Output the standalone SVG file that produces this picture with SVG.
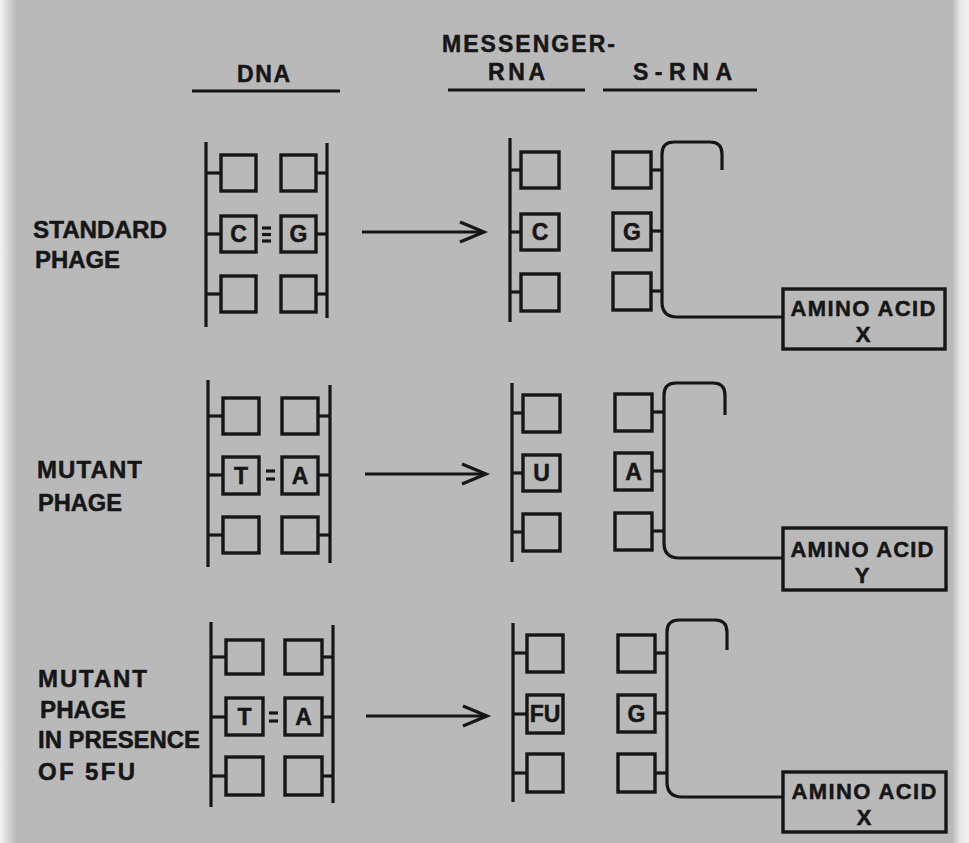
<svg xmlns="http://www.w3.org/2000/svg" width="969" height="843" viewBox="0 0 969 843">
<defs>
<style>
.ink{stroke:#161616;stroke-width:3.2;fill:none;stroke-linecap:butt}
.bx{stroke:#161616;stroke-width:3.4;fill:none}
.t{font-family:"Liberation Sans",Arial,sans-serif;font-weight:bold;fill:#161616;stroke:#161616;stroke-width:0.5}
.lbl{font-size:24px}
.hdr{font-size:23px}
.base{font-size:23px;text-anchor:middle}
.aa{font-size:22px;text-anchor:middle}
</style>
<linearGradient id="lg" x1="0" x2="1" y1="0" y2="0">
<stop offset="0" stop-color="#f2f2f2"/><stop offset="1" stop-color="#b9b9b9"/>
</linearGradient>
<linearGradient id="rg" x1="0" x2="1" y1="0" y2="0">
<stop offset="0" stop-color="#b9b9b9"/><stop offset="0.5" stop-color="#e8e8e8"/><stop offset="1" stop-color="#f0f0f0"/>
</linearGradient>
</defs>
<rect x="0" y="0" width="969" height="843" fill="#b9b9b9"/>
<rect x="0" y="0" width="16" height="843" fill="url(#lg)"/>
<rect x="952" y="0" width="17" height="843" fill="url(#rg)"/>

<g id="headers">
<text class="t hdr" x="237" y="82" textLength="53" lengthAdjust="spacing">DNA</text>
<line class="ink" x1="192" y1="91" x2="340" y2="91"/>
<text class="t hdr" x="442" y="52" textLength="173" lengthAdjust="spacing">MESSENGER-</text>
<text class="t hdr" x="488" y="80" textLength="57" lengthAdjust="spacing">RNA</text>
<line class="ink" x1="448" y1="90" x2="585" y2="90"/>
<text class="t hdr" x="633" y="80" textLength="99" lengthAdjust="spacing">S-RNA</text>
<line class="ink" x1="603" y1="90" x2="757" y2="90"/>
</g>

<!-- Row 1 -->
<g id="label-standard">
<text class="t lbl" x="33" y="238" textLength="134" lengthAdjust="spacingAndGlyphs">STANDARD</text>
<text class="t lbl" x="35" y="268" textLength="85" lengthAdjust="spacingAndGlyphs">PHAGE</text>
</g>
<g id="dna-standard">
<line class="ink" x1="206" y1="142" x2="206" y2="327"/>
<rect class="bx" x="221" y="155" width="35" height="36"/>
<rect class="bx" x="221" y="216" width="35" height="36"/>
<rect class="bx" x="221" y="276" width="35" height="36"/>
<line class="ink" x1="206" y1="173" x2="221" y2="173"/>
<line class="ink" x1="206" y1="234" x2="221" y2="234"/>
<line class="ink" x1="206" y1="294" x2="221" y2="294"/>
<rect class="bx" x="281" y="155" width="35" height="36"/>
<rect class="bx" x="281" y="216" width="35" height="36"/>
<rect class="bx" x="281" y="276" width="35" height="36"/>
<line class="ink" x1="316" y1="173" x2="327" y2="173"/>
<line class="ink" x1="316" y1="234" x2="327" y2="234"/>
<line class="ink" x1="316" y1="294" x2="327" y2="294"/>
<line class="ink" x1="327" y1="143" x2="327" y2="318"/>
<text class="t base" x="238.5" y="242.2">C</text>
<text class="t base" x="298.5" y="242.2">G</text>
<line class="ink" x1="262" y1="228" x2="271" y2="228" stroke-width="2.6"/>
<line class="ink" x1="262" y1="234.5" x2="271" y2="234.5" stroke-width="2.6"/>
<line class="ink" x1="262" y1="241" x2="271" y2="241" stroke-width="2.6"/>
</g>
<g id="mrna-standard">
<line class="ink" x1="510" y1="138" x2="510" y2="322"/>
<rect class="bx" x="521" y="152" width="38" height="36"/>
<rect class="bx" x="521" y="214" width="38" height="36"/>
<rect class="bx" x="521" y="274" width="38" height="37"/>
<line class="ink" x1="510" y1="170" x2="521" y2="170"/>
<line class="ink" x1="510" y1="232" x2="521" y2="232"/>
<line class="ink" x1="510" y1="292" x2="521" y2="292"/>
<text class="t base" x="540" y="240.2">C</text>
</g>
<g id="srna-standard">
<rect class="bx" x="613" y="152" width="38" height="36"/>
<rect class="bx" x="613" y="213" width="38" height="37"/>
<rect class="bx" x="613" y="273" width="38" height="37"/>
<line class="ink" x1="651" y1="170" x2="662" y2="170"/>
<line class="ink" x1="651" y1="231" x2="662" y2="231"/>
<line class="ink" x1="651" y1="291" x2="662" y2="291"/>
<path class="ink" d="M722 170 V154 Q722 142 710 142 H674 Q662 142 662 154 V302 Q662 317 677 317 H783"/>
<text class="t base" x="632" y="239.7">G</text>
</g>
<g id="amino-x-1">
<rect class="bx" x="783" y="289" width="162" height="60"/>
<text class="t aa" x="863" y="316" textLength="145" lengthAdjust="spacing">AMINO ACID</text>
<text class="t aa" x="863" y="342">X</text>
</g>

<!-- Row 2 -->
<g id="label-mutant">
<text class="t lbl" x="37" y="478" textLength="105" lengthAdjust="spacing">MUTANT</text>
<text class="t lbl" x="38" y="511" textLength="84" lengthAdjust="spacingAndGlyphs">PHAGE</text>
</g>
<g id="dna-mutant">
<line class="ink" x1="208" y1="380" x2="208" y2="567"/>
<rect class="bx" x="223" y="398" width="36" height="36"/>
<rect class="bx" x="223" y="457" width="36" height="37"/>
<rect class="bx" x="223" y="517" width="36" height="36"/>
<line class="ink" x1="208" y1="416" x2="223" y2="416"/>
<line class="ink" x1="208" y1="475" x2="223" y2="475"/>
<line class="ink" x1="208" y1="535" x2="223" y2="535"/>
<rect class="bx" x="282" y="398" width="36" height="36"/>
<rect class="bx" x="282" y="457" width="36" height="37"/>
<rect class="bx" x="282" y="517" width="36" height="36"/>
<line class="ink" x1="318" y1="416" x2="330" y2="416"/>
<line class="ink" x1="318" y1="475" x2="330" y2="475"/>
<line class="ink" x1="318" y1="535" x2="330" y2="535"/>
<line class="ink" x1="330" y1="385" x2="330" y2="563"/>
<text class="t base" x="241" y="483.7">T</text>
<text class="t base" x="300" y="483.7">A</text>
<line class="ink" x1="266" y1="471" x2="275" y2="471" stroke-width="2.6"/>
<line class="ink" x1="266" y1="479" x2="275" y2="479" stroke-width="2.6"/>
</g>
<g id="mrna-mutant">
<line class="ink" x1="512" y1="383" x2="512" y2="562"/>
<rect class="bx" x="523" y="395" width="37" height="37"/>
<rect class="bx" x="523" y="455" width="37" height="36"/>
<rect class="bx" x="523" y="514" width="37" height="37"/>
<line class="ink" x1="512" y1="413" x2="523" y2="413"/>
<line class="ink" x1="512" y1="473" x2="523" y2="473"/>
<line class="ink" x1="512" y1="532" x2="523" y2="532"/>
<text class="t base" x="541.5" y="481.2">U</text>
</g>
<g id="srna-mutant">
<rect class="bx" x="615" y="394" width="37" height="37"/>
<rect class="bx" x="615" y="453" width="37" height="37"/>
<rect class="bx" x="615" y="513" width="37" height="37"/>
<line class="ink" x1="652" y1="412" x2="664" y2="412"/>
<line class="ink" x1="652" y1="471" x2="664" y2="471"/>
<line class="ink" x1="652" y1="531" x2="664" y2="531"/>
<path class="ink" d="M725 415 V395 Q725 383 713 383 H676 Q664 383 664 395 V543 Q664 558 679 558 H783"/>
<text class="t base" x="633.5" y="479.7">A</text>
</g>
<g id="amino-y">
<rect class="bx" x="783" y="528" width="163" height="62"/>
<text class="t aa" x="862" y="557" textLength="143" lengthAdjust="spacing">AMINO ACID</text>
<text class="t aa" x="862" y="583">Y</text>
</g>

<!-- Row 3 -->
<g id="label-mutant-5fu">
<text class="t lbl" x="38" y="687" textLength="109" lengthAdjust="spacing">MUTANT</text>
<text class="t lbl" x="40" y="718" textLength="86" lengthAdjust="spacingAndGlyphs">PHAGE</text>
<text class="t lbl" x="38" y="748" textLength="162" lengthAdjust="spacingAndGlyphs">IN PRESENCE</text>
<text class="t lbl" x="38" y="780" textLength="97" lengthAdjust="spacing">OF 5FU</text>
</g>
<g id="dna-mutant-5fu">
<line class="ink" x1="211" y1="622" x2="211" y2="807"/>
<rect class="bx" x="226" y="640" width="37" height="34"/>
<rect class="bx" x="226" y="698" width="37" height="37"/>
<rect class="bx" x="226" y="757" width="37" height="38"/>
<line class="ink" x1="211" y1="657" x2="226" y2="657"/>
<line class="ink" x1="211" y1="717" x2="226" y2="717"/>
<line class="ink" x1="211" y1="776" x2="226" y2="776"/>
<rect class="bx" x="285" y="640" width="37" height="34"/>
<rect class="bx" x="285" y="698" width="37" height="37"/>
<rect class="bx" x="285" y="757" width="37" height="38"/>
<line class="ink" x1="322" y1="657" x2="333" y2="657"/>
<line class="ink" x1="322" y1="717" x2="333" y2="717"/>
<line class="ink" x1="322" y1="776" x2="333" y2="776"/>
<line class="ink" x1="333" y1="625" x2="333" y2="803"/>
<text class="t base" x="244.5" y="724.7">T</text>
<text class="t base" x="303.5" y="724.7">A</text>
<line class="ink" x1="269" y1="713" x2="278" y2="713" stroke-width="2.6"/>
<line class="ink" x1="269" y1="721" x2="278" y2="721" stroke-width="2.6"/>
</g>
<g id="mrna-mutant-5fu">
<line class="ink" x1="513" y1="623" x2="513" y2="802"/>
<rect class="bx" x="527" y="635" width="36" height="37"/>
<rect class="bx" x="527" y="695" width="36" height="38"/>
<rect class="bx" x="527" y="754" width="36" height="38"/>
<line class="ink" x1="513" y1="653" x2="527" y2="653"/>
<line class="ink" x1="513" y1="714" x2="527" y2="714"/>
<line class="ink" x1="513" y1="773" x2="527" y2="773"/>
<text class="t base" x="545" y="722.2">FU</text>
</g>
<g id="srna-mutant-5fu">
<rect class="bx" x="618" y="635" width="37" height="37"/>
<rect class="bx" x="618" y="695" width="37" height="37"/>
<rect class="bx" x="618" y="754" width="37" height="38"/>
<line class="ink" x1="655" y1="653" x2="667" y2="653"/>
<line class="ink" x1="655" y1="713" x2="667" y2="713"/>
<line class="ink" x1="655" y1="773" x2="667" y2="773"/>
<path class="ink" d="M727 650 V632 Q727 620 715 620 H679 Q667 620 667 632 V782 Q667 797 682 797 H783"/>
<text class="t base" x="636.5" y="721.7">G</text>
</g>
<g id="amino-x-3">
<rect class="bx" x="783" y="772" width="163" height="60"/>
<text class="t aa" x="864" y="799" textLength="145" lengthAdjust="spacing">AMINO ACID</text>
<text class="t aa" x="864" y="825">X</text>
</g>

<g id="connectors">
<line class="ink" x1="362" y1="232" x2="483" y2="232"/>
<polyline class="ink" points="460,222 484,232 460,242" stroke-linejoin="miter"/>
<line class="ink" x1="365" y1="474" x2="485" y2="474"/>
<polyline class="ink" points="462,464 486,474 462,484" stroke-linejoin="miter"/>
<line class="ink" x1="366" y1="716" x2="486" y2="716"/>
<polyline class="ink" points="463,706 487,716 463,726" stroke-linejoin="miter"/>
</g>
</svg>
